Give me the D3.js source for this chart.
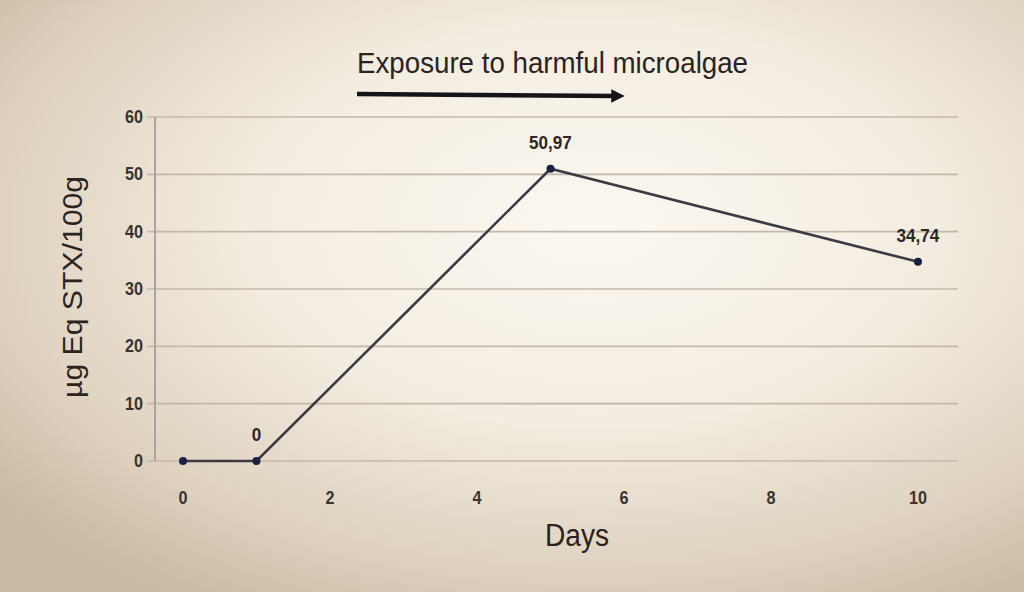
<!DOCTYPE html>
<html><head><meta charset="utf-8">
<script src="https://cdn.jsdelivr.net/npm/d3@7"></script>
<style>html,body{margin:0;padding:0;overflow:hidden;background:#e8dccb}</style>
</head><body>
<svg id="c" width="1024" height="592"></svg>
<script>
const days = [0, 1, 5, 10];
const values = [0, 0, 50.97, 34.74];
const pointLabels = ["", "0", "50,97", "34,74"];
const xTicks = [0, 2, 4, 6, 8, 10];
const yTicks = [0, 10, 20, 30, 40, 50, 60];
const title = "Exposure to harmful microalgae";
const xTitle = "Days";
const yTitle = "µg Eq STX/100g";

const svg = d3.select("#c");
const defs = svg.append("defs");
const rg = defs.append("radialGradient").attr("id","bg").attr("cx","58%").attr("cy","38%").attr("r","75%");
rg.append("stop").attr("offset","0%").attr("stop-color","#fbf8f1");
rg.append("stop").attr("offset","45%").attr("stop-color","#f3ece0");
rg.append("stop").attr("offset","80%").attr("stop-color","#ddd0bd");
rg.append("stop").attr("offset","100%").attr("stop-color","#c9b8a2");
svg.append("rect").attr("width",1024).attr("height",592).attr("fill","url(#bg)");

const x = d3.scaleLinear().domain([0,10]).range([183,918]);
const y = d3.scaleLinear().domain([0,60]).range([461,117]);
const axisX = 155;
const font = "Liberation Sans, Arial, sans-serif";

svg.append("g").selectAll("line").data(yTicks).join("line")
  .attr("x1", axisX-8).attr("x2", 958)
  .attr("y1", d=>y(d)).attr("y2", d=>y(d))
  .attr("stroke","#c4b8ab").attr("stroke-width",1.6);
svg.append("line").attr("x1",axisX).attr("x2",axisX).attr("y1",y(60)).attr("y2",y(0))
  .attr("stroke","#a9a4a2").attr("stroke-width",2);

svg.append("g").selectAll("text").data(yTicks).join("text")
  .attr("x", axisX-12).attr("y", d=>y(d)+6)
  .attr("text-anchor","end")
  .attr("font-family",font).attr("font-weight","bold").attr("font-size",18).attr("fill","#3a3330")
  .attr("transform", d=>`translate(${axisX-12},0) scale(0.9,1) translate(${-(axisX-12)},0)`)
  .text(d=>d);
svg.append("g").selectAll("text").data(xTicks).join("text")
  .attr("x", d=>x(d)).attr("y", 504)
  .attr("text-anchor","middle")
  .attr("font-family",font).attr("font-weight","bold").attr("font-size",18).attr("fill","#3a3330")
  .attr("transform", d=>`translate(${x(d)},0) scale(0.9,1) translate(${-x(d)},0)`)
  .text(d=>d);

const data = days.map((d,i)=>({d, v:values[i], l:pointLabels[i]}));
svg.append("path").datum(data)
  .attr("d", d3.line().x(p=>x(p.d)).y(p=>y(p.v)))
  .attr("fill","none").attr("stroke","#3c3a44").attr("stroke-width",2.6);
svg.append("g").selectAll("circle").data(data).join("circle")
  .attr("cx", p=>x(p.d)).attr("cy", p=>y(p.v)).attr("r",4)
  .attr("fill","#1c2142");
svg.append("g").selectAll("text").data(data).join("text")
  .attr("x", p=>x(p.d)).attr("y", p=>y(p.v)-20)
  .attr("text-anchor","middle")
  .attr("font-family",font).attr("font-weight","bold").attr("font-size",19).attr("fill","#2e2724")
  .attr("transform", p=>`translate(${x(p.d)},0) scale(0.9,1) translate(${-x(p.d)},0)`)
  .text(p=>p.l);

svg.append("text").attr("x",357).attr("y",73)
  .attr("font-family",font).attr("font-size",29).attr("fill","#2a2320")
  .attr("textLength",391).attr("lengthAdjust","spacingAndGlyphs")
  .text(title);
defs.append("marker").attr("id","ah").attr("viewBox","0 0 10 10").attr("refX",5).attr("refY",5)
  .attr("markerWidth",3).attr("markerHeight",3).attr("orient","auto")
  .append("path").attr("d","M0,0 L10,5 L0,10 z").attr("fill","#15141a");
svg.append("line").attr("x1",357).attr("x2",618).attr("y1",94).attr("y2",96)
  .attr("stroke","#15141a").attr("stroke-width",4.5).attr("marker-end","url(#ah)");

svg.append("text").attr("x",545).attr("y",546)
  .attr("font-family",font).attr("font-size",31).attr("fill","#2a2320")
  .attr("textLength",64).attr("lengthAdjust","spacingAndGlyphs")
  .text(xTitle);
svg.append("text").attr("transform","translate(82,287) rotate(-90)").attr("text-anchor","middle")
  .attr("font-family",font).attr("font-size",27).attr("fill","#2a2320")
  .attr("textLength",222).attr("lengthAdjust","spacingAndGlyphs")
  .text(yTitle);
</script>
</body></html>
